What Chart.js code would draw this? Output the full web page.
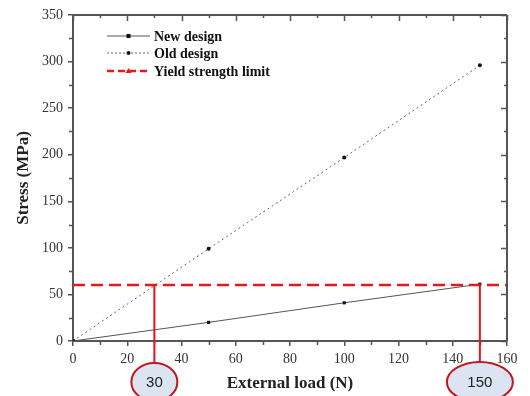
<!DOCTYPE html>
<html>
<head>
<meta charset="utf-8">
<script src="https://cdn.jsdelivr.net/npm/chart.js@4/dist/chart.umd.min.js"></script>
<style>
  html, body { margin: 0; padding: 0; background: #fff; overflow: hidden; }
  canvas { display: block; }
</style>
</head>
<body>
<canvas id="stress-chart" width="530" height="396"></canvas>
<script>
  // values
  const loads = [0, 50, 100, 150];
  const newDesign = [0, 20, 41, 61];
  const oldDesign = [0, 99, 197, 296];
  const yieldLoads = [0, 160];
  const yieldLimit = [60, 60];
  const markedLoads = [30, 150];
  const legendLabels = ['New design', 'Old design', 'Yield strength limit'];

  const SERIF = '"Liberation Serif", "Times New Roman", serif';
  const AXIS = '#555';

  function pts(xs, ys) {
    return xs.map((x, i) => ({ x: x, y: ys[i] }));
  }

  // frame on top/right, inward mirror ticks, minor ticks
  const framePlugin = {
    id: 'frame',
    afterDraw(chart) {
      const { ctx, chartArea: a, scales } = chart;
      const xs = scales.x, ys = scales.y;
      ctx.save();
      ctx.strokeStyle = AXIS;
      ctx.lineWidth = 2;
      ctx.beginPath();
      ctx.moveTo(a.left, a.top); ctx.lineTo(a.right, a.top);
      ctx.moveTo(a.right, a.top); ctx.lineTo(a.right, a.bottom);
      ctx.stroke();
      ctx.lineWidth = 1.5;
      ctx.beginPath();
      for (let v = 0; v <= 160; v += 10) {
        const px = Math.round(xs.getPixelForValue(v)) + 0.5;
        const major = v % 20 === 0;
        ctx.moveTo(px, a.top); ctx.lineTo(px, a.top + (major ? 6 : 3));
        if (!major) { ctx.moveTo(px, a.bottom); ctx.lineTo(px, a.bottom + 4); }
      }
      for (let v = 0; v <= 350; v += 25) {
        const py = Math.round(ys.getPixelForValue(v)) + 0.5;
        const major = v % 50 === 0;
        ctx.moveTo(a.right, py); ctx.lineTo(a.right - (major ? 6 : 3), py);
        if (!major) { ctx.moveTo(a.left, py); ctx.lineTo(a.left - 4, py); }
      }
      ctx.stroke();
      ctx.restore();
    }
  };

  // legend with line samples and markers
  const legendPlugin = {
    id: 'sampleLegend',
    afterDraw(chart) {
      const { ctx, chartArea: a } = chart;
      const x0 = a.left + 34, x1 = a.left + 77;
      const rows = [a.top + 21, a.top + 38, a.top + 56];
      ctx.save();
      chart.data.datasets.slice(0, 3).forEach((ds, i) => {
        const y = rows[i];
        ctx.strokeStyle = ds.borderColor;
        ctx.lineWidth = i === 2 ? 2.5 : 1;
        ctx.setLineDash(i === 1 ? [2, 2] : i === 2 ? [7, 4] : []);
        ctx.beginPath(); ctx.moveTo(x0, y); ctx.lineTo(x1, y); ctx.stroke();
        ctx.setLineDash([]);
        const mx = (x0 + x1) / 2;
        if (i === 0) { ctx.fillStyle = '#111'; ctx.fillRect(mx - 2, y - 2, 4, 4); }
        if (i === 1) { ctx.fillStyle = '#111'; ctx.beginPath(); ctx.arc(mx, y, 2, 0, Math.PI * 2); ctx.fill(); }
        if (i === 2) {
          ctx.fillStyle = '#e41a1c';
          ctx.beginPath(); ctx.moveTo(mx, y - 3); ctx.lineTo(mx + 3, y + 2); ctx.lineTo(mx - 3, y + 2); ctx.closePath(); ctx.fill();
        }
        ctx.fillStyle = '#111';
        ctx.font = 'bold 14px ' + SERIF;
        ctx.textBaseline = 'middle';
        ctx.fillText(legendLabels[i], x1 + 4, y + 1);
      });
      ctx.restore();
    }
  };

  // red drop lines from the yield limit to the circled load values
  const calloutPlugin = {
    id: 'callouts',
    afterDraw(chart) {
      const { ctx, scales } = chart;
      const yTop = scales.y.getPixelForValue(yieldLimit[0]);
      const cy = 382;
      ctx.save();
      markedLoads.forEach((v, i) => {
        const cx = scales.x.getPixelForValue(v);
        const rx = i === 0 ? 23 : 33, ry = i === 0 ? 19 : 20;
        ctx.strokeStyle = '#e8141c';
        ctx.lineWidth = 2;
        ctx.beginPath(); ctx.moveTo(cx, yTop); ctx.lineTo(cx, cy - ry); ctx.stroke();
        ctx.beginPath();
        ctx.ellipse(cx, cy, rx, ry, 0, 0, Math.PI * 2);
        ctx.fillStyle = '#dbe4f0';
        ctx.fill();
        ctx.strokeStyle = '#c0161e';
        ctx.stroke();
        ctx.fillStyle = '#222';
        ctx.font = '15px "Liberation Sans", Arial, sans-serif';
        ctx.textAlign = 'center';
        ctx.textBaseline = 'middle';
        ctx.fillText(String(v), cx, cy + 1);
      });
      ctx.restore();
    }
  };

  new Chart(document.getElementById('stress-chart'), {
    type: 'line',
    data: {
      datasets: [
        {
          label: legendLabels[0],
          data: pts(loads, newDesign),
          borderColor: '#555',
          borderWidth: 1,
          pointStyle: 'rect',
          pointRadius: 2.2,
          pointBorderWidth: 0,
          pointBackgroundColor: '#111',
          order: 2
        },
        {
          label: legendLabels[1],
          data: pts(loads, oldDesign),
          borderColor: '#666',
          borderWidth: 1,
          borderDash: [2, 3],
          pointRadius: 2,
          pointBorderWidth: 0,
          pointBackgroundColor: '#111',
          order: 3
        },
        {
          label: legendLabels[2],
          data: pts(yieldLoads, yieldLimit),
          borderColor: '#e41a1c',
          borderWidth: 2.5,
          borderDash: [12, 6],
          pointRadius: 0,
          order: 1
        }
      ]
    },
    options: {
      responsive: false,
      animation: false,
      devicePixelRatio: 1,
      layout: { padding: { top: 15, right: 23, left: 0, bottom: 0 } },
      plugins: { legend: { display: false }, tooltip: { enabled: false } },
      scales: {
        x: {
          type: 'linear',
          min: 0,
          max: 160,
          afterFit(scale) { scale.height = 55; },
          ticks: { stepSize: 20, color: '#333', padding: 5, maxRotation: 0, font: { family: SERIF, size: 14 } },
          grid: { drawOnChartArea: false, tickLength: 5, color: AXIS, lineWidth: 1.5 },
          border: { color: AXIS, width: 2 },
          title: { display: true, text: 'External load (N)', color: '#222', font: { family: SERIF, size: 17, weight: 'bold' }, padding: { top: 0, bottom: 2 } }
        },
        y: {
          min: 0,
          max: 350,
          afterFit(scale) { scale.width = 73; },
          ticks: { stepSize: 50, color: '#333', padding: 5, font: { family: SERIF, size: 14 } },
          grid: { drawOnChartArea: false, tickLength: 5, color: AXIS, lineWidth: 1.5 },
          border: { color: AXIS, width: 2 },
          title: { display: true, text: 'Stress (MPa)', color: '#222', font: { family: SERIF, size: 17, weight: 'bold' }, padding: { top: 13, bottom: 4 } }
        }
      }
    },
    plugins: [framePlugin, legendPlugin, calloutPlugin]
  });
</script>
</body>
</html>
